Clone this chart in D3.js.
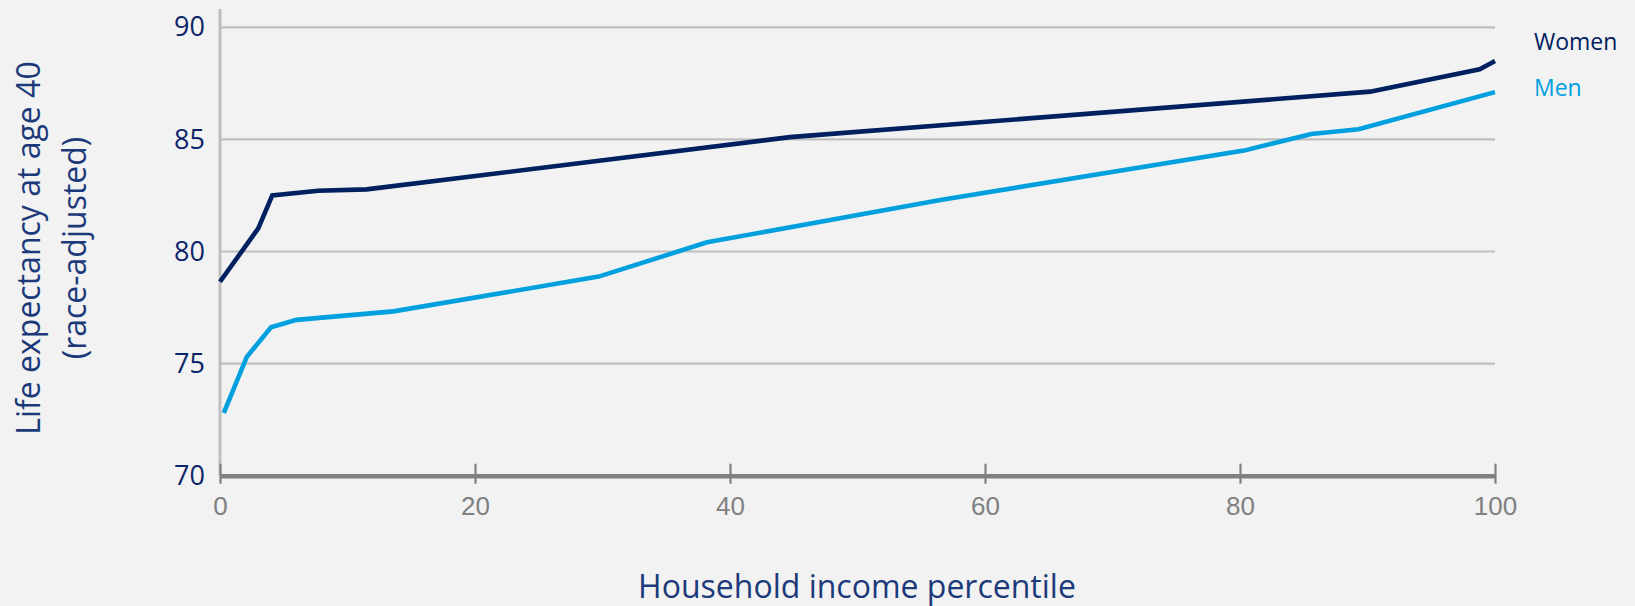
<!DOCTYPE html>
<html>
<head>
<meta charset="utf-8">
<script src="https://cdn.jsdelivr.net/npm/d3@7"></script>
<style>
  html, body { margin: 0; padding: 0; background: #f2f2f2; }
  svg { display: block; }
</style>
</head>
<body>
<svg id="chart" width="1635" height="606"></svg>
<script>
// Household income percentile
const womenPct = [0, 3.0, 4.1, 7.7, 11.5, 44.7, 90.2, 98.8, 100];
// Life expectancy at age 40, women
const womenLE  = [78.65, 81.03, 82.5, 82.71, 82.77, 85.1, 87.13, 88.13, 88.5];

const menPct = [0.3, 2.1, 4.0, 6.0, 13.6, 29.7, 38.2, 56.5, 80.3, 85.6, 89.3, 100];
const menLE  = [72.8, 75.3, 76.62, 76.95, 77.33, 78.88, 80.41, 82.3, 84.5, 85.24, 85.45, 87.11];

const seriesNames = ["Women", "Men"];
const xTicks = [0, 20, 40, 60, 80, 100];
const yTicks = [70, 75, 80, 85, 90];

const colors = { Women: "#002060", Men: "#00a0df" };

const svg = d3.select("#chart");
const W = 1635, H = 606;
svg.append("rect").attr("width", W).attr("height", H).attr("fill", "#f2f2f2");

const x = d3.scaleLinear().domain([0, 100]).range([220, 1495]);
const y = d3.scaleLinear().domain([70, 90]).range([475.7, 27.3]);

// horizontal gridlines
svg.append("g")
  .selectAll("line")
  .data(yTicks.filter(d => d > 70))
  .join("line")
  .attr("x1", x(0)).attr("x2", x(100))
  .attr("y1", d => y(d)).attr("y2", d => y(d))
  .attr("stroke", "#bfbfbf").attr("stroke-width", 2.2);

// vertical axis line
svg.append("line")
  .attr("x1", x(0)).attr("x2", x(0))
  .attr("y1", 9).attr("y2", y(70))
  .attr("stroke", "#bfbfbf").attr("stroke-width", 3);

// y tick labels
const yAxis = d3.axisLeft(y).tickValues(yTicks).tickSize(0).tickPadding(15);
const gy = svg.append("g").attr("transform", `translate(${x(0)},0)`).call(yAxis);
gy.select(".domain").remove();
gy.selectAll("text")
  .attr("font-family", "'Open Sans', sans-serif")
  .attr("font-size", 27)
  .attr("fill", "#0a2568");

// x axis: thick baseline with ticks crossing it
const xAxis = d3.axisBottom(x).tickValues(xTicks).tickSizeInner(0).tickSizeOuter(0).tickPadding(0);
const gx = svg.append("g").attr("transform", `translate(0,${y(70)})`).call(xAxis);
gx.select(".domain").attr("stroke", "#808080").attr("stroke-width", 4.5);
gx.selectAll(".tick line")
  .attr("y1", -12).attr("y2", 8)
  .attr("stroke", "#808080").attr("stroke-width", 2.2);
gx.selectAll(".tick text")
  .attr("y", 21)
  .attr("dy", "0.71em")
  .attr("font-family", "'Liberation Sans Narrow', 'Liberation Sans', sans-serif")
  .attr("font-size", 26)
  .attr("fill", "#808080");

// series lines
const line = d3.line().x(d => x(d[0])).y(d => y(d[1]));
const series = [
  { name: "Women", pts: d3.zip(womenPct, womenLE) },
  { name: "Men", pts: d3.zip(menPct, menLE) }
];
svg.append("g")
  .selectAll("path")
  .data(series)
  .join("path")
  .attr("d", d => line(d.pts))
  .attr("fill", "none")
  .attr("stroke", d => colors[d.name])
  .attr("stroke-width", 4.6)
  .attr("stroke-linejoin", "miter")
  .attr("stroke-linecap", "butt");

// legend labels
svg.append("g")
  .selectAll("text")
  .data(seriesNames)
  .join("text")
  .attr("x", 1534)
  .attr("y", (d, i) => 42 + i * 46)
  .attr("dy", "0.35em")
  .attr("font-family", "'Open Sans', sans-serif")
  .attr("font-size", 23)
  .attr("fill", d => colors[d])
  .text(d => d);

// axis titles
const yTitle = svg.append("text")
  .attr("transform", "translate(52,248) rotate(-90)")
  .attr("text-anchor", "middle")
  .attr("font-family", "'Open Sans', sans-serif")
  .attr("font-size", 32)
  .attr("fill", "#1c3a7a");
yTitle.append("tspan").attr("x", 0).attr("y", -12).text("Life expectancy at age 40");
yTitle.append("tspan").attr("x", 0).attr("y", 34).text("(race-adjusted)");

svg.append("text")
  .attr("x", 857).attr("y", 587)
  .attr("dy", "0.35em")
  .attr("text-anchor", "middle")
  .attr("font-family", "'Open Sans', sans-serif")
  .attr("font-size", 32)
  .attr("fill", "#1c3a7a")
  .text("Household income percentile");
</script>
</body>
</html>
